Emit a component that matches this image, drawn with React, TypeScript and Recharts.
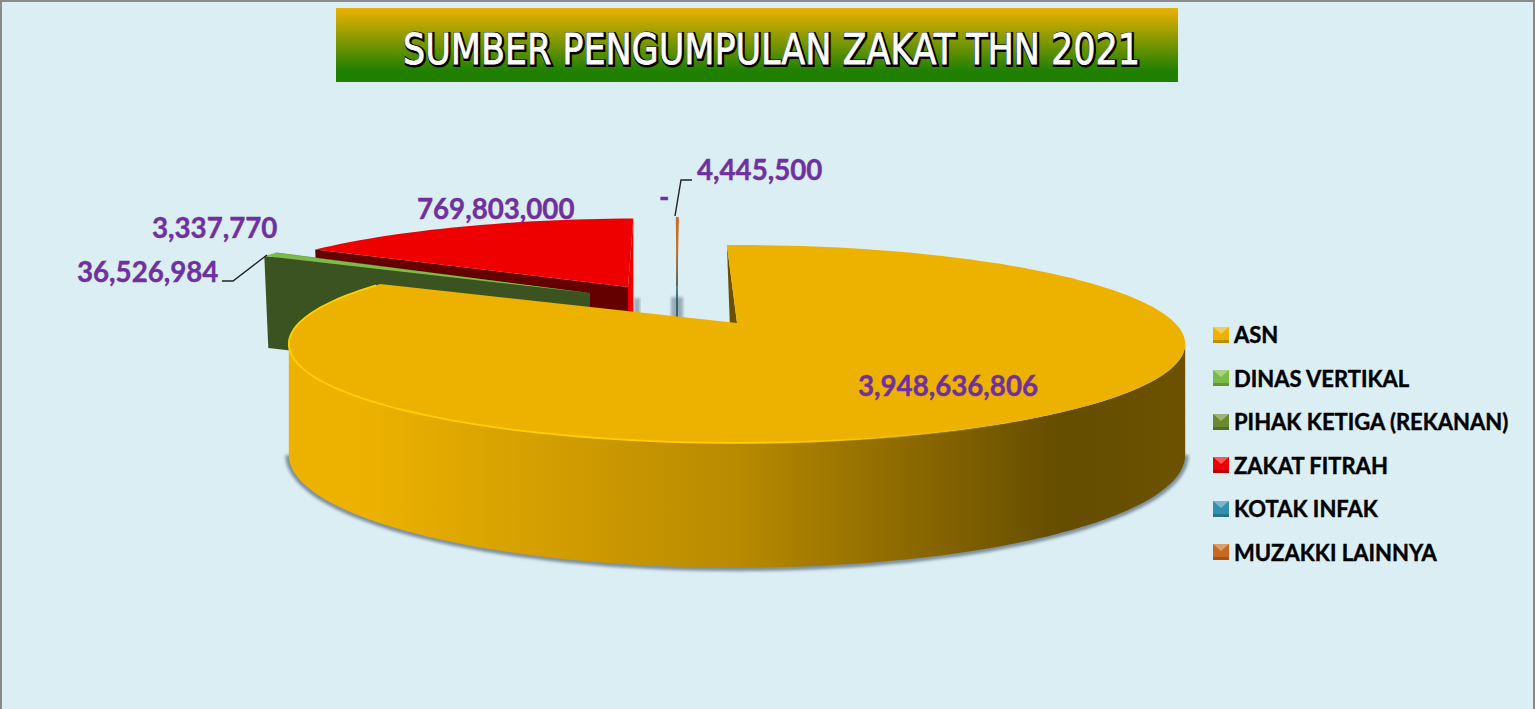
import React from 'react';
import { PieChart, Pie, Cell, Legend } from 'recharts';

const CATEGORIES = ['ASN', 'DINAS VERTIKAL', 'PIHAK KETIGA (REKANAN)', 'ZAKAT FITRAH', 'KOTAK INFAK', 'MUZAKKI LAINNYA'];
const VALUES = [3948636806, 36526984, 3337770, 769803000, 0, 4445500];
const COLORS = ['#EDB200', '#7DBB48', '#6B8A30', '#EE0000', '#3390B0', '#C86A20'];

const TITLE = 'SUMBER PENGUMPULAN ZAKAT THN 2021';
const BG = '#DBEEF4';
const PURPLE = '#7030A0';

// Pie goes counter-clockwise so the big slice is painted last, on top of the others
const pieData = CATEGORIES.map((name, i) => ({ name, value: VALUES[i], fill: COLORS[i] })).reverse();

// fake 3D: the flat pie is pushed through a simple perspective
const TILT = 0.2158;
const PERSP = 0.212;
const EDGE_ANGLE = (Math.acos(-PERSP) * 180) / Math.PI;

const ASN_LOOK = { dx: 0, dy: 0, fx: 1, fy: 1, apexShift: 0, depth: 108, ccwWall: '#6A5000', cwWall: null };
const GREEN_LOOK = { dx: -135, dy: -30, fx: 0.947, fy: 0.95, apexShift: -12, depth: 92, ccwWall: '#3B5320', cwWall: null };
const RED_LOOK = { dx: -92, dy: -36, fx: 0.96, fy: 0.88, apexShift: -17, depth: 95, ccwWall: '#640000', cwWall: '#EE0000' };
const THIN_LOOK = { dx: -49, dy: -37, fx: 0.96, fy: 0.88, apexShift: -11, depth: 31, ccwWall: null, cwWall: null };

const LOOKS: Record<string, any> = {
  ASN: ASN_LOOK,
  'DINAS VERTIKAL': GREEN_LOOK,
  'PIHAK KETIGA (REKANAN)': GREEN_LOOK,
  'ZAKAT FITRAH': RED_LOOK,
  'KOTAK INFAK': THIN_LOOK,
  'MUZAKKI LAINNYA': THIN_LOOK,
};

const LABEL_SPOTS: Record<string, { x: number; y: number; leader?: string }> = {
  ASN: { x: 858, y: 396 },
  'DINAS VERTIKAL': { x: 77, y: 282, leader: 'M222,281 L233,281 L267,255' },
  'PIHAK KETIGA (REKANAN)': { x: 152, y: 238 },
  'ZAKAT FITRAH': { x: 417, y: 219 },
  'KOTAK INFAK': { x: 659, y: 207 },
  'MUZAKKI LAINNYA': { x: 697, y: 180, leader: 'M692,180 L681,180 L675,216' },
};

const rimPoint = (phi: number, o: any, look: any, level = 0) => {
  const r = (phi * Math.PI) / 180;
  const w = 1 + PERSP * Math.cos(r);
  const x = o.cx + look.dx + (o.outerRadius * look.fx * Math.sin(r)) / w;
  const sy = o.outerRadius * TILT * look.fy * (level ? 1.14 : 1);
  const y = o.cy + look.dy + (level ? look.depth : 0) - (sy * Math.cos(r)) / w;
  return [x, y];
};

const arcPoints = (from: number, to: number, o: any, look: any, level = 0) => {
  const n = Math.max(1, Math.ceil(Math.abs(to - from) / 2));
  const pts = [];
  for (let i = 0; i <= n; i++) pts.push(rimPoint(from + ((to - from) * i) / n, o, look, level));
  return pts;
};

const toPath = (pts: number[][], close = true) =>
  pts.map((p, i) => `${i ? 'L' : 'M'}${p[0].toFixed(1)},${p[1].toFixed(1)}`).join(' ') + (close ? ' Z' : '');

function SliceShape(props: any) {
  const name = props.name || props.payload?.name;
  const look = LOOKS[name];
  const cwEnd = 90 - props.startAngle;
  const ccwEnd = 90 - props.endAngle;
  const apex = [props.cx + look.dx + look.apexShift, props.cy + look.dy];
  const rimCw = rimPoint(cwEnd, props, look);
  const rimCcw = rimPoint(ccwEnd, props, look);
  const down = (p: number[]) => [p[0], p[1] + look.depth];
  const top = [apex, ...arcPoints(cwEnd, ccwEnd, props, look)];

  if (name === 'KOTAK INFAK') {
    return <line x1={apex[0]} x2={apex[0] + 0.01} y1={apex[1] - 36} y2={apex[1] + 32} stroke="url(#thinFade)" strokeWidth={1.6} />;
  }

  const isAsn = name === 'ASN';
  const wallTop = isAsn ? arcPoints(-360 + EDGE_ANGLE, -EDGE_ANGLE, props, look) : [];
  const wallBottom = isAsn ? arcPoints(-360 + EDGE_ANGLE, -EDGE_ANGLE, props, look, 1) : [];

  return (
    <g>
      {isAsn && (
        <defs>
          <linearGradient id="asnWall" gradientUnits="userSpaceOnUse" x1={288} x2={1186} y1={0} y2={0}>
            <stop offset="0.08" stopColor="#EDB200" />
            <stop offset="0.5" stopColor="#B88A00" />
            <stop offset="0.86" stopColor="#654D00" />
            <stop offset="1" stopColor="#6C5200" />
          </linearGradient>
          <linearGradient id="asnRim" gradientUnits="userSpaceOnUse" x1={288} x2={1050} y1={0} y2={0}>
            <stop offset="0.6" stopColor="#FFD000" />
            <stop offset="1" stopColor="#FFD000" stopOpacity={0} />
          </linearGradient>
          <linearGradient id="thinFade" gradientUnits="userSpaceOnUse" x1={0} x2={0} y1={250} y2={295}>
            <stop offset="0" stopColor="#1D4F60" stopOpacity={0} />
            <stop offset="1" stopColor="#1D4F60" />
          </linearGradient>
          <filter id="softShadow" x="-10%" y="-10%" width="120%" height="120%">
            <feGaussianBlur stdDeviation="1.4" />
          </filter>
        </defs>
      )}
      {name === 'ZAKAT FITRAH' && (
        <rect x={apex[0] + 6} y={apex[1] + 11} width={6} height={36} fill="#8C9CA8" opacity={0.8} filter="url(#softShadow)" />
      )}
      {name === 'MUZAKKI LAINNYA' && (
        <rect x={apex[0] - 6} y={apex[1] + 11} width={12} height={36} fill="#8C9CA8" opacity={0.8} filter="url(#softShadow)" />
      )}
      {isAsn && (
        <path d={toPath(wallBottom, false)} fill="none" stroke="#7F909E" strokeWidth={7} filter="url(#softShadow)" />
      )}
      {isAsn && <path d={toPath([...wallTop, ...wallBottom.slice().reverse()])} fill="url(#asnWall)" />}
      {look.cwWall && <path d={toPath([rimCw, apex, down(apex), down(rimCw)])} fill={look.cwWall} />}
      {look.ccwWall && (
        <path d={toPath([rimCcw, apex, down(apex), [rimCcw[0] + 4, rimCcw[1] + look.depth]])} fill={look.ccwWall} />
      )}
      <path d={toPath(top)} fill={props.fill} stroke={name === 'MUZAKKI LAINNYA' ? props.fill : 'none'} strokeWidth={1} />
      {isAsn && (
        <path d={toPath(arcPoints(cwEnd - 1, -EDGE_ANGLE - 160, props, look), false)} fill="none" stroke="url(#asnRim)" strokeWidth={1.8} />
      )}
    </g>
  );
}

function renderLabel(props: any) {
  const name = props.name || props.payload?.name;
  const spot = LABEL_SPOTS[name];
  const text = props.value ? Number(props.value).toLocaleString('en-US') : '-';
  return (
    <g key={name}>
      {spot.leader && <path d={spot.leader} fill="none" stroke="#222222" strokeWidth={1.4} />}
      <text x={spot.x} y={spot.y} fill={PURPLE} stroke={PURPLE} strokeWidth={0.4} fontFamily="Lato" fontWeight={700} fontSize={27.7} textAnchor="start">
        {text}
      </text>
    </g>
  );
}

function LegendBlock(props: any) {
  // recharts sorts the payload itself, so put it back in the category order
  const items = [...(props.payload || [])].sort((a: any, b: any) => CATEGORIES.indexOf(a.value) - CATEGORIES.indexOf(b.value));
  return (
    <div>
      {items.map((entry: any) => (
        <div key={entry.value} style={{ display: 'flex', alignItems: 'center', height: 43.5 }}>
          <svg width={16} height={16} style={{ marginRight: 5, flex: 'none' }}>
            <rect width={16} height={16} fill={entry.color} />
            <polygon points="0,0 16,0 8,7" fill="#ffffff" opacity={0.35} />
            <polygon points="0,16 16,16 16,13 0,13" fill="#000000" opacity={0.2} />
          </svg>
          <span style={{ fontFamily: 'Lato', fontWeight: 700, fontSize: 22, color: '#000', whiteSpace: 'nowrap', WebkitTextStroke: '0.4px #000' }}>{entry.value}</span>
        </div>
      ))}
    </div>
  );
}

export default function App() {
  return (
    <div style={{ position: 'absolute', left: 0, top: 0, width: 1535, height: 709, background: BG, boxShadow: 'inset 2px 2px 0 #8a8a8a, inset -2px 0 0 #8a8a8a' }}>
      <PieChart width={1535} height={709} margin={{ top: 0, right: 0, bottom: 0, left: 0 }}>
        <defs>
          <linearGradient id="titleBg" x1="0" x2="0" y1="0" y2="1">
            <stop offset="0" stopColor="#EDB200" />
            <stop offset="0.85" stopColor="#1F8000" />
            <stop offset="1" stopColor="#1F8000" />
          </linearGradient>
        </defs>
        <rect x={336} y={8} width={842} height={74} fill="url(#titleBg)" />
        <text
          x={404}
          y={65}
          fontFamily="DejaVu Sans"
          fontSize={42}
          fill="#000000"
          stroke="#000000"
          strokeWidth={4}
          textLength={737}
          lengthAdjust="spacingAndGlyphs"
        >
          {TITLE}
        </text>
        <text
          x={403}
          y={64}
          fontFamily="DejaVu Sans"
          fontSize={42}
          fill="#ffffff"
          stroke="#ffffff"
          strokeWidth={0.8}
          textLength={737}
          lengthAdjust="spacingAndGlyphs"
        >
          {TITLE}
        </text>
        <Pie
          data={pieData}
          dataKey="value"
          nameKey="name"
          cx={737}
          cy={323}
          outerRadius={438}
          startAngle={91.6}
          endAngle={451.6}
          stroke="none"
          shape={SliceShape}
          label={renderLabel}
          labelLine={false}
          isAnimationActive={false}
        >
          {pieData.map((entry) => (
            <Cell key={entry.name} fill={entry.fill} />
          ))}
        </Pie>
        <Legend content={LegendBlock} wrapperStyle={{ position: 'absolute', left: 1213, top: 313, width: 320 }} />
      </PieChart>
    </div>
  );
}
